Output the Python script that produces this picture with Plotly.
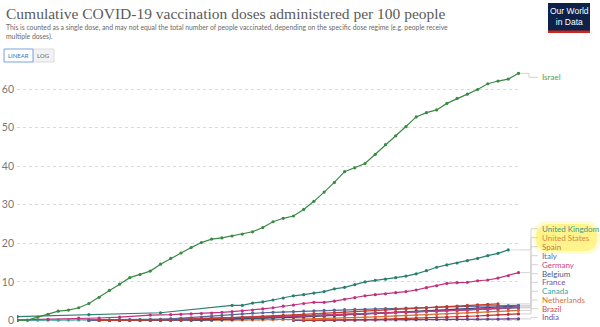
import pandas as pd
import plotly.graph_objects as go

# ---------------- data (doses per 100 people, daily from the start day) ----------------
base_date = "2020-12-20"

israel_start = 0
israel = [0, 0.1, 0.85, 1.6, 2.4, 2.7, 3.3, 4.4, 6.0, 7.8, 9.4, 11.1, 11.9, 12.8, 14.6, 16.1,
          17.5, 18.9, 20.2, 21.1, 21.4, 21.9, 22.4, 23.0, 24.1, 25.6, 26.5, 27.1, 28.8, 30.9,
          33.3, 35.8, 38.6, 39.6, 40.7, 43.1, 45.6, 47.9, 50.3, 52.8, 53.9, 54.6, 56.3, 57.6,
          58.7, 59.9, 61.4, 62.1, 62.6, 64.1]

uk_days = [0, 7, 14, 21, 22, 23, 24, 25, 26, 27, 28, 29, 30, 31, 32, 33, 34, 35, 36, 37, 38,
           39, 40, 41, 42, 43, 44, 45, 46, 47, 48]
uk = [1.0, 1.5, 2.0, 3.9, 3.9, 4.5, 4.8, 5.3, 5.8, 6.4, 6.7, 7.1, 7.5, 8.2, 8.6, 9.3, 10.0,
      10.4, 10.7, 11.1, 11.5, 12.1, 12.9, 13.8, 14.4, 14.9, 15.5, 16.1, 16.8, 17.4, 18.3]

us_days = [0, 3, 6, 8, 10, 13, 15, 16, 17, 18, 19, 20, 21, 22, 23, 24, 25, 26, 27, 28, 29, 30,
           31, 32, 33, 34, 35, 36, 37, 38, 39, 40, 41, 42, 43, 44, 45, 46, 47, 48, 49]
us = [0.17, 0.3, 0.59, 0.64, 0.84, 1.4, 1.5, 1.6, 1.7, 1.8, 1.9, 2.1, 2.3, 2.5, 2.7, 3.0, 3.3,
      3.7, 4.0, 4.4, 4.7, 4.7, 5.0, 5.5, 5.9, 6.4, 6.7, 6.9, 7.2, 7.5, 7.9, 8.5, 9.0, 9.6, 9.8,
      9.9, 10.3, 10.5, 11.0, 11.6, 12.4]

spain_start = 8
spain = [0.01, 0.02, 0.03, 0.04, 0.05, 0.06, 0.08, 0.12, 0.2, 0.3, 0.4, 0.5, 0.6, 0.7, 0.8, 0.9,
         1.0, 1.15, 1.3, 1.45, 1.6, 1.75, 1.9, 2.05, 2.2, 2.35, 2.5, 2.6, 2.75, 2.9, 3.0, 3.15,
         3.3, 3.45, 3.6, 3.75, 3.9, 4.05, 4.2, 4.3]

italy_start = 7
italy = [0.01, 0.02, 0.03, 0.05, 0.08, 0.12, 0.18, 0.25, 0.4, 0.55, 0.7, 0.9, 1.1, 1.3, 1.5,
         1.7, 1.9, 2.0, 2.1, 2.2, 2.3, 2.4, 2.5, 2.6, 2.7, 2.8, 2.85, 2.9, 3.0, 3.05, 3.1, 3.2,
         3.3, 3.35, 3.4, 3.5, 3.6, 3.65, 3.7, 3.75, 3.8, 3.85, 3.9]

germany_start = 7
germany = [0.02, 0.04, 0.06, 0.1, 0.14, 0.18, 0.22, 0.27, 0.32, 0.38, 0.44, 0.5, 0.56, 0.62,
           0.7, 0.78, 0.86, 0.94, 1.0, 1.08, 1.16, 1.24, 1.32, 1.4, 1.5, 1.58, 1.66, 1.74,
           1.82, 1.9, 2.0, 2.1, 2.2, 2.3, 2.4, 2.5, 2.62, 2.74, 2.86, 3.0, 3.15, 3.3, 3.5]

belgium_start = 9
belgium = [0.0, 0.0, 0.01, 0.01, 0.02, 0.03, 0.05, 0.08, 0.12, 0.16, 0.2, 0.25, 0.3, 0.36,
           0.42, 0.5, 0.6, 0.7, 0.8, 0.9, 1.0, 1.1, 1.2, 1.35, 1.5, 1.65, 1.8, 1.95, 2.1, 2.25,
           2.4, 2.55, 2.7, 2.85, 3.0, 3.1, 3.2, 3.3, 3.45, 3.6, 3.75]

france_start = 7
france = [0.0, 0.0, 0.0, 0.0, 0.0, 0.0, 0.01, 0.02, 0.04, 0.07, 0.1, 0.15, 0.2, 0.3, 0.4, 0.5,
          0.6, 0.7, 0.8, 0.9, 1.0, 1.1, 1.2, 1.3, 1.4, 1.5, 1.6, 1.7, 1.8, 1.9, 2.0, 2.1, 2.2,
          2.3, 2.4, 2.5, 2.6, 2.7, 2.8, 2.9, 3.0, 3.15, 3.3]

canada_start = 0
canada = [0.03, 0.04, 0.05, 0.06, 0.08, 0.1, 0.12, 0.14, 0.16, 0.18, 0.2, 0.22, 0.25, 0.28,
          0.31, 0.35, 0.4, 0.45, 0.5, 0.55, 0.6, 0.65, 0.72, 0.8, 0.88, 0.96, 1.04, 1.12, 1.2,
          1.3, 1.4, 1.5, 1.6, 1.7, 1.8, 1.9, 2.0, 2.1, 2.2, 2.3, 2.4, 2.5, 2.6, 2.7, 2.8, 2.9,
          3.0, 3.1, 3.2, 3.3]

netherlands_start = 17
netherlands = [0.0, 0.01, 0.02, 0.04, 0.06, 0.09, 0.12, 0.16, 0.2, 0.25, 0.3, 0.36, 0.42, 0.5,
               0.58, 0.66, 0.75, 0.85, 0.95, 1.05, 1.15, 1.25, 1.35, 1.45, 1.55, 1.65, 1.8,
               1.95, 2.1, 2.25, 2.4, 2.5, 2.6]

brazil_start = 28
brazil = [0.0, 0.01, 0.03, 0.06, 0.1, 0.15, 0.2, 0.26, 0.32, 0.4, 0.48, 0.56, 0.65, 0.75,
          0.85, 0.95, 1.05, 1.15, 1.3, 1.45, 1.6, 1.7]

india_start = 27
india = [0.0, 0.01, 0.01, 0.02, 0.02, 0.03, 0.05, 0.07, 0.09, 0.11, 0.13, 0.16, 0.19, 0.22,
         0.25, 0.27, 0.29, 0.31, 0.33, 0.35, 0.37, 0.39, 0.41]

y_ticks = [0, 10, 20, 30, 40, 50, 60]

title_text = "Cumulative COVID-19 vaccination doses administered per 100 people"
subtitle_text = ("This is counted as a single dose, and may not equal the total number of people "
                 "vaccinated, depending on the specific dose regime (e.g. people receive<br>multiple doses).")

# ---------------- helpers ----------------
b0 = pd.Timestamp(base_date)


def dates_from_start(start, n):
    return list(pd.date_range(b0 + pd.Timedelta(days=start), periods=n, freq="D"))


def dates_from_days(days):
    return [b0 + pd.Timedelta(days=d) for d in days]


series = [
    # name, x dates, values, line colour, label colour
    ("India", dates_from_start(india_start, len(india)), india, "#6b3f8f", "#7a4d9b"),
    ("Brazil", dates_from_start(brazil_start, len(brazil)), brazil, "#b8322f", "#c84a48"),
    ("Netherlands", dates_from_start(netherlands_start, len(netherlands)), netherlands, "#d9692f", "#d9733c"),
    ("Canada", dates_from_start(canada_start, len(canada)), canada, "#38a3a0", "#3aa6a0"),
    ("France", dates_from_start(france_start, len(france)), france, "#6a4fa0", "#6f55a3"),
    ("Belgium", dates_from_start(belgium_start, len(belgium)), belgium, "#3c4a6e", "#4a5a80"),
    ("Germany", dates_from_start(germany_start, len(germany)), germany, "#c93a7c", "#cc3f80"),
    ("Italy", dates_from_start(italy_start, len(italy)), italy, "#54689c", "#5a70a3"),
    ("Spain", dates_from_start(spain_start, len(spain)), spain, "#c23a2a", "#c9763a"),
    ("United States", dates_from_days(us_days), us, "#c0307e", "#d8893e"),
    ("United Kingdom", dates_from_days(uk_days), uk, "#2a8070", "#3c9a8e"),
    ("Israel", dates_from_start(israel_start, len(israel)), israel, "#3a8a45", "#4ca35a"),
]

fig = go.Figure()
for name, xs, ys, col, _ in series:
    fig.add_trace(go.Scatter(
        x=xs, y=ys, mode="lines+markers", name=name,
        line=dict(color=col, width=1.2),
        marker=dict(color=col, size=3.2, line=dict(width=0)),
        showlegend=False, hoverinfo="skip",
    ))

# ---------------- layout geometry (pixels) ----------------
W, H = 600, 327
L, R, T, B = 17, 80, 66, 5
PW, PH = W - L - R, H - T - B
y_min, y_max = -0.4, 66.0


def xp(px):
    return (px - L) / PW


def yp(py):
    return (H - B - py) / PH


def yv(py):  # pixel -> y value
    return y_min + (H - B - py) / PH * (y_max - y_min)


shapes = []
annotations = []

# ---------------- right-hand labels with leader lines ----------------
label_px = {
    "Israel": 77.3, "United Kingdom": 228.7, "United States": 237.7, "Spain": 246.7,
    "Italy": 255.7, "Germany": 264.7, "Belgium": 273.7, "France": 282.3, "Canada": 291.3,
    "Netherlands": 300.0, "Brazil": 308.7, "India": 317.3,
}

# soft yellow highlight behind "United States"
for pad, alpha in [(3, 0.25), (0, 0.55)]:
    shapes.append(dict(type="path", xref="paper", yref="paper",
                       path=f"M {xp(550 - pad)},{yp(224 - pad)} L {xp(584 + pad)},{yp(224 - pad)} "
                            f"Q {xp(597 + pad)},{yp(224 - pad)} {xp(597 + pad)},{yp(237.5)} "
                            f"Q {xp(597 + pad)},{yp(251 + pad)} {xp(584 + pad)},{yp(251 + pad)} "
                            f"L {xp(550 - pad)},{yp(251 + pad)} Q {xp(536 - pad)},{yp(251 + pad)} {xp(536 - pad)},{yp(237.5)} "
                            f"Q {xp(536 - pad)},{yp(224 - pad)} {xp(550 - pad)},{yp(224 - pad)} Z",
                       fillcolor=f"rgba(255,238,80,{alpha})", line=dict(width=0), layer="below"))

for name, xs, ys, col, lab_col in series:
    end_x = xs[-1]
    end_y = ys[-1]
    ly = yv(label_px[name])
    bx = 529 if name == "Israel" else 531
    shapes.append(dict(type="line", xref="x", yref="y", x0=end_x, y0=end_y,
                       x1=b0 + pd.Timedelta(days=49), y1=end_y,
                       line=dict(color="#dcdcdc", width=1), layer="below"))
    shapes.append(dict(type="path", xref="paper", yref="y",
                       path=f"M {xp(519)},{end_y} L {xp(bx)},{end_y} L {xp(bx)},{ly} L {xp(538)},{ly}",
                       line=dict(color="#d3d3d3", width=1), layer="below"))
    annotations.append(dict(text=name, xref="paper", yref="paper", x=xp(540), y=yp(label_px[name]),
                            xanchor="left", yanchor="middle", showarrow=False,
                            font=dict(family="Lato", size=8, color=lab_col)))

# ---------------- header ----------------
annotations.append(dict(text=title_text, xref="paper", yref="paper", x=xp(4), y=yp(3),
                        xanchor="left", yanchor="top", showarrow=False,
                        font=dict(family="Liberation Serif", size=15.5, color="#5b5b5b")))
annotations.append(dict(text=subtitle_text, xref="paper", yref="paper", x=xp(4), y=yp(21),
                        xanchor="left", yanchor="top", showarrow=False, align="left",
                        font=dict(family="Lato", size=6.8, color="#6a6a6a")))

# LINEAR / LOG toggle
shapes.append(dict(type="rect", xref="paper", yref="paper", x0=xp(33), x1=xp(54), y0=yp(49), y1=yp(62),
                   fillcolor="#f2f2f2", line=dict(color="#dddddd", width=1)))
shapes.append(dict(type="rect", xref="paper", yref="paper", x0=xp(4), x1=xp(33), y0=yp(49), y1=yp(62),
                   fillcolor="#ffffff", line=dict(color="#7aa3d8", width=1)))
annotations.append(dict(text="LINEAR", xref="paper", yref="paper", x=xp(18.5), y=yp(55.5),
                        xanchor="center", yanchor="middle", showarrow=False,
                        font=dict(family="Lato", size=6, color="#3d6fbf")))
annotations.append(dict(text="LOG", xref="paper", yref="paper", x=xp(43.5), y=yp(55.5),
                        xanchor="center", yanchor="middle", showarrow=False,
                        font=dict(family="Lato", size=6, color="#666666")))

# OWID logo
shapes.append(dict(type="rect", xref="paper", yref="paper", x0=xp(548), x1=xp(590), y0=yp(3), y1=yp(33),
                   fillcolor="#0d2149", line=dict(width=0)))
shapes.append(dict(type="rect", xref="paper", yref="paper", x0=xp(548), x1=xp(590), y0=yp(30.5), y1=yp(33),
                   fillcolor="#ce261e", line=dict(width=0)))
annotations.append(dict(text="Our World<br>in Data", xref="paper", yref="paper", x=xp(569), y=yp(16),
                        xanchor="center", yanchor="middle", showarrow=False,
                        font=dict(family="Liberation Sans", size=8.5, color="#ffffff")))

fig.update_layout(
    width=W, height=H,
    margin=dict(l=L, r=R, t=T, b=B, autoexpand=False),
    paper_bgcolor="white", plot_bgcolor="white",
    shapes=shapes, annotations=annotations,
    xaxis=dict(range=[b0 - pd.Timedelta(hours=0.7), b0 + pd.Timedelta(days=49, hours=3.6)],
               showgrid=False, zeroline=False, showline=False, ticks="",
               tickformat="%b %-d, %Y", dtick=7 * 86400000, tick0=base_date,
               ticklabelstandoff=4,
               tickfont=dict(family="Lato", size=10, color="#8a8a8a")),
    yaxis=dict(range=[y_min, y_max], tickvals=y_ticks, showgrid=True, gridcolor="#d9d9d9",
               griddash="dot", gridwidth=1, zeroline=False, showline=False, ticks="",
               ticklabelstandoff=2,
               tickfont=dict(family="Lato", size=10.5, color="#777777")),
)

fig.write_html("out.html")
